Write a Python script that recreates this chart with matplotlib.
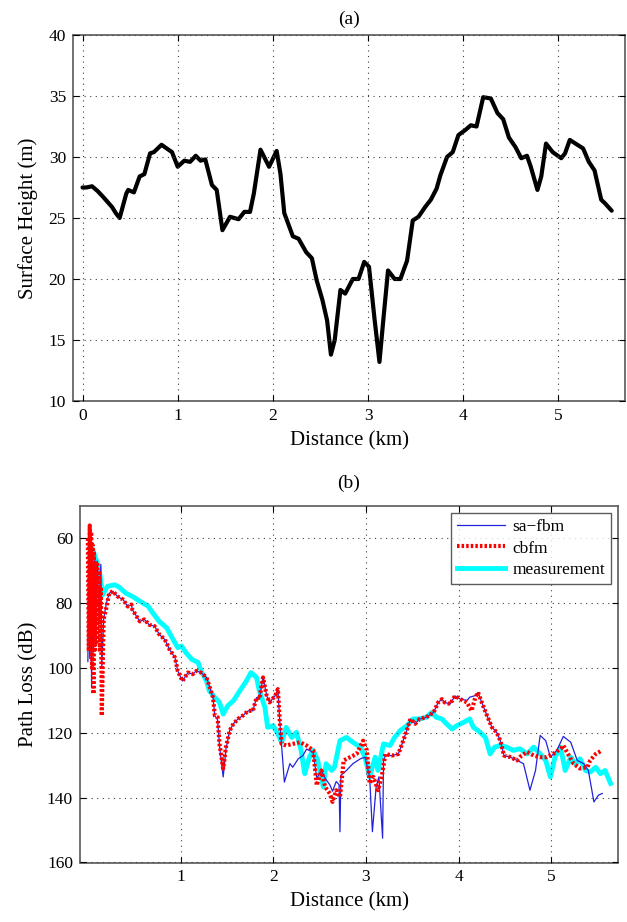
import matplotlib
matplotlib.use("Agg")
import matplotlib.pyplot as plt

plt.rcParams['font.family'] = ['Liberation Serif', 'DejaVu Serif']
plt.rcParams['mathtext.fontset'] = 'stix'

# ---------------- (a) surface height ----------------
surf_km = [0.00, 0.04, 0.10, 0.16, 0.22, 0.31, 0.35, 0.39, 0.46, 0.48, 0.54, 0.60, 0.65, 0.71, 0.75,
           0.83, 0.94, 1.00, 1.07, 1.13, 1.19, 1.24, 1.29, 1.36, 1.41, 1.47, 1.55, 1.64, 1.70, 1.76,
           1.80, 1.87, 1.96, 2.04, 2.08, 2.12, 2.21, 2.27, 2.35, 2.41, 2.46, 2.52, 2.57, 2.61, 2.65,
           2.71, 2.76, 2.84, 2.90, 2.96, 3.01, 3.07, 3.12, 3.16, 3.21, 3.28, 3.34, 3.41, 3.47, 3.53,
           3.60, 3.66, 3.72, 3.76, 3.83, 3.89, 3.95, 4.02, 4.08, 4.14, 4.21, 4.29, 4.36, 4.42, 4.48,
           4.55, 4.61, 4.67, 4.71, 4.78, 4.82, 4.87, 4.94, 5.03, 5.07, 5.12, 5.20, 5.26, 5.32, 5.38,
           5.45, 5.49, 5.56]
surf_h = [27.5, 27.5, 27.6, 27.2, 26.7, 25.9, 25.4, 25.0, 27.0, 27.3, 27.1, 28.4, 28.6, 30.3, 30.4,
          31.0, 30.4, 29.2, 29.7, 29.6, 30.1, 29.7, 29.8, 27.7, 27.3, 24.0, 25.1, 24.9, 25.5, 25.5,
          27.0, 30.6, 29.2, 30.5, 28.6, 25.4, 23.5, 23.3, 22.2, 21.7, 19.9, 18.3, 16.6, 13.8, 15.0,
          19.1, 18.8, 20.0, 20.0, 21.4, 21.0, 16.6, 13.2, 16.6, 20.7, 20.0, 20.0, 21.5, 24.8, 25.1,
          25.9, 26.5, 27.4, 28.5, 30.0, 30.4, 31.8, 32.2, 32.6, 32.5, 34.9, 34.8, 33.6, 33.1, 31.6,
          30.8, 29.9, 30.1, 29.2, 27.3, 28.4, 31.1, 30.4, 29.9, 30.3, 31.4, 31.0, 30.7, 29.6, 28.9,
          26.5, 26.2, 25.6]

# ---------------- (b) path loss ----------------
meas_km = [0.05, 0.09, 0.12, 0.16, 0.21, 0.29, 0.34, 0.41, 0.48, 0.59, 0.65, 0.70, 0.77, 0.85, 0.92,
           0.97, 1.01, 1.06, 1.12, 1.19, 1.22, 1.24, 1.28, 1.31, 1.37, 1.42, 1.46, 1.51, 1.57, 1.64,
           1.71, 1.76, 1.82, 1.85, 1.91, 1.94, 2.00, 2.05, 2.09, 2.14, 2.20, 2.25, 2.30, 2.34, 2.39,
           2.43, 2.48, 2.54, 2.57, 2.63, 2.66, 2.72, 2.79, 2.86, 2.94, 2.99, 3.04, 3.10, 3.13, 3.19,
           3.26, 3.31, 3.37, 3.44, 3.51, 3.58, 3.65, 3.71, 3.76, 3.82, 3.87, 3.93, 3.98, 4.05, 4.12,
           4.16, 4.21, 4.29, 4.34, 4.39, 4.45, 4.52, 4.59, 4.66, 4.74, 4.81, 4.88, 4.94, 4.99, 5.04,
           5.10, 5.15, 5.21, 5.26, 5.31, 5.37, 5.42, 5.48, 5.53, 5.58, 5.64]
meas_db = [63.3, 66.6, 69.2, 77.4, 74.8, 74.3, 75.1, 76.9, 77.9, 79.9, 80.9, 83.0, 85.6, 87.6, 91.2,
           93.7, 93.2, 95.3, 97.3, 98.3, 100.9, 101.9, 104.0, 107.0, 109.1, 110.6, 114.2, 111.6, 110.1, 107.0,
           104.0, 101.4, 102.9, 107.0, 112.1, 118.3, 117.8, 120.3, 122.9, 118.3, 121.4, 119.8, 125.4, 132.6, 127.5,
           125.4, 128.5, 136.7, 129.5, 131.6, 130.6, 122.4, 121.4, 122.9, 124.4, 127.5, 133.6, 127.5, 131.6, 123.4,
           123.9, 121.4, 119.3, 117.8, 115.7, 115.7, 115.2, 113.7, 115.2, 115.7, 117.2, 118.8, 117.8, 116.8, 115.7,
           118.3, 119.3, 121.4, 126.5, 124.4, 123.9, 124.4, 125.4, 124.9, 126.5, 124.4, 126.5, 128.5, 133.6, 127.5,
           124.4, 131.6, 127.5, 129.6, 128.0, 131.6, 132.1, 130.6, 132.6, 131.6, 135.6]

cbfm_km = [0.00, 0.01, 0.02, 0.03, 0.035, 0.045, 0.05, 0.06, 0.065, 0.075, 0.08, 0.09, 0.10, 0.11, 0.12,
           0.13, 0.14, 0.15, 0.17, 0.20, 0.23, 0.27, 0.32, 0.38, 0.43, 0.47, 0.48, 0.56, 0.61, 0.66,
           0.72, 0.77, 0.83, 0.88, 0.94, 0.97, 1.01, 1.02, 1.08, 1.13, 1.17, 1.22, 1.28, 1.31, 1.35,
           1.37, 1.40, 1.42, 1.46, 1.49, 1.53, 1.57, 1.62, 1.67, 1.73, 1.78, 1.82, 1.85, 1.89, 1.93,
           1.96, 2.02, 2.05, 2.07, 2.09, 2.14, 2.21, 2.29, 2.36, 2.43, 2.47, 2.52, 2.56, 2.61, 2.64,
           2.68, 2.72, 2.76, 2.83, 2.90, 2.97, 3.01, 3.04, 3.08, 3.13, 3.17, 3.21, 3.28, 3.35, 3.39,
           3.44, 3.48, 3.53, 3.58, 3.65, 3.73, 3.78, 3.82, 3.85, 3.91, 3.96, 4.02, 4.09, 4.14, 4.18,
           4.21, 4.25, 4.30, 4.36, 4.41, 4.45, 4.49, 4.56, 4.63, 4.68, 4.74, 4.81, 4.88, 4.95, 5.02,
           5.10, 5.13, 5.19, 5.24, 5.31, 5.39, 5.42, 5.48, 5.55]
cbfm_db = [60.0, 94.8, 56.0, 90.0, 58.0, 100.0, 62.0, 108.0, 64.0, 95.0, 67.0, 92.0, 68.0, 85.0, 70.0,
           95.0, 75.0, 114.7, 85.0, 81.3, 76.9, 76.3, 77.9, 78.9, 81.0, 80.4, 82.0, 85.6, 85.0, 86.6,
           87.1, 89.6, 91.2, 94.2, 96.8, 100.9, 103.4, 104.0, 101.4, 101.9, 100.9, 101.4, 102.9, 105.5, 109.1,
           114.7, 115.2, 123.4, 131.0, 124.4, 119.3, 117.2, 115.7, 114.7, 113.2, 113.2, 109.1, 109.6, 102.9, 108.6,
           110.6, 108.6, 106.5, 116.2, 123.4, 123.9, 123.4, 122.9, 123.9, 125.4, 136.2, 131.6, 136.7, 138.7, 141.3,
           137.7, 139.8, 128.5, 127.5, 126.5, 122.4, 125.4, 135.6, 133.6, 137.7, 133.6, 126.5, 127.0, 126.5, 123.4,
           119.3, 115.7, 117.2, 115.7, 115.2, 113.7, 110.6, 109.6, 110.6, 111.1, 108.6, 109.6, 110.6, 113.2, 109.1,
           107.5, 110.6, 114.2, 118.3, 119.8, 122.4, 127.0, 127.5, 128.5, 127.0, 125.9, 127.0, 127.5, 127.5, 126.5,
           124.9, 123.9, 127.0, 129.5, 131.0, 130.6, 128.5, 126.5, 125.4]

safbm_km = [0.00, 0.01, 0.02, 0.03, 0.04, 0.05, 0.06, 0.07, 0.08, 0.10, 0.12, 0.14, 0.15, 0.17, 0.20,
            0.23, 0.27, 0.32, 0.38, 0.43, 0.47, 0.48, 0.56, 0.61, 0.66, 0.72, 0.77, 0.83, 0.88, 0.94,
            0.97, 1.01, 1.02, 1.08, 1.13, 1.17, 1.22, 1.28, 1.31, 1.35, 1.37, 1.40, 1.42, 1.46, 1.49,
            1.53, 1.57, 1.62, 1.67, 1.73, 1.78, 1.82, 1.85, 1.89, 1.93, 1.96, 2.02, 2.05, 2.07, 2.12,
            2.18, 2.21, 2.27, 2.32, 2.36, 2.43, 2.47, 2.52, 2.56, 2.61, 2.64, 2.68, 2.71, 2.72, 2.73,
            2.79, 2.86, 2.94, 2.99, 3.04, 3.07, 3.11, 3.14, 3.18, 3.19, 3.21, 3.28, 3.35, 3.39, 3.44,
            3.48, 3.53, 3.58, 3.65, 3.73, 3.78, 3.82, 3.85, 3.91, 3.96, 4.02, 4.09, 4.12, 4.18, 4.21,
            4.25, 4.30, 4.36, 4.41, 4.45, 4.49, 4.56, 4.63, 4.70, 4.77, 4.83, 4.88, 4.94, 4.99, 5.06,
            5.13, 5.21, 5.28, 5.35, 5.40, 5.46, 5.51, 5.55]
safbm_db = [98.0, 60.0, 97.0, 62.0, 106.0, 66.0, 95.0, 66.0, 90.0, 67.0, 85.0, 68.0, 100.0, 85.0, 80.0,
            76.9, 76.3, 77.9, 78.9, 81.0, 80.4, 82.0, 85.6, 85.0, 86.6, 87.1, 89.6, 91.2, 94.2, 96.8,
            100.9, 103.4, 104.0, 101.4, 101.9, 100.9, 101.4, 102.9, 105.5, 109.1, 114.7, 116.0, 124.0, 133.6, 125.0,
            119.3, 117.2, 115.7, 114.7, 113.2, 113.2, 109.1, 109.6, 102.9, 108.6, 110.6, 108.6, 106.5, 116.2, 135.2,
            129.5, 130.6, 128.0, 127.0, 125.0, 126.0, 134.0, 131.6, 134.0, 136.0, 138.0, 135.0, 136.0, 150.5, 133.1,
            131.6, 129.5, 128.0, 127.5, 133.6, 150.5, 136.7, 133.6, 152.5, 128.5, 127.0, 127.0, 126.5, 123.4, 119.3,
            115.7, 117.2, 115.7, 115.2, 113.7, 110.6, 109.6, 110.6, 111.1, 108.6, 109.6, 110.0, 109.0, 108.5, 107.5,
            110.6, 114.2, 118.3, 119.8, 122.4, 127.0, 127.5, 128.5, 129.5, 137.7, 131.6, 120.8, 122.4, 127.5, 125.4,
            121.1, 122.9, 128.5, 129.5, 131.6, 141.3, 139.2, 138.7]

series_names = ['sa\u2212fbm', 'cbfm', 'measurement']

fig = plt.figure(figsize=(6.27, 9.22), dpi=100)

grid_kw = dict(color='0.25', linestyle=(0, (1, 4)), linewidth=0.8)
spine_color = '0.35'

def style(ax):
    for s in ax.spines.values():
        s.set_color(spine_color)
        s.set_linewidth(1.2)
    ax.tick_params(direction='in', top=True, right=True, length=4, width=0.8,
                   colors='black', labelsize=12.5, pad=5)
    ax.grid(True, **grid_kw)
    ax.set_axisbelow(False)

# (a)
ax1 = fig.add_axes([73/627, 1-401/922, (625-73)/627, (401-35)/922])
ax1.plot(surf_km, surf_h, color='black', linewidth=3.0, solid_joinstyle='round',
         solid_capstyle='round')
ax1.set_xlim(-0.1, 5.7)
ax1.set_ylim(10, 40)
ax1.set_xticks([0, 1, 2, 3, 4, 5])
ax1.set_yticks([10, 15, 20, 25, 30, 35, 40])
ax1.set_xlabel('Distance (km)', fontsize=15, labelpad=5)
ax1.set_ylabel('Surface Height (m)', fontsize=15, labelpad=8)
ax1.set_title('(a)', fontsize=14, pad=8)
style(ax1)

# (b)
ax2 = fig.add_axes([80/627, 1-862.5/922, (618-80)/627, (862.5-506)/922])
ax2.plot(safbm_km, safbm_db, color='#2222dd', linewidth=0.9, label=series_names[0], zorder=3)
ax2.plot(cbfm_km, cbfm_db, color='red', linewidth=3.0, linestyle=(0, (0.6, 0.5)),
         label=series_names[1], zorder=4)
ax2.plot(meas_km, meas_db, color='cyan', linewidth=3.5, label=series_names[2], zorder=2)
ax2.set_xlim(-0.085, 5.72)
ax2.set_ylim(160, 50)
ax2.set_xticks([1, 2, 3, 4, 5])
ax2.set_yticks([60, 80, 100, 120, 140, 160])
ax2.set_xlabel('Distance (km)', fontsize=15, labelpad=5)
ax2.set_ylabel('Path Loss (dB)', fontsize=15, labelpad=6)
ax2.set_title('(b)', fontsize=14, pad=13)
style(ax2)
leg = ax2.legend(loc='upper right', fontsize=12.5, frameon=True, fancybox=False,
                 edgecolor='0.2', handlelength=2.8, borderaxespad=0.4,
                 labelspacing=0.3, handletextpad=0.4, borderpad=0.35)
leg.get_frame().set_linewidth(1.0)

fig.savefig('out.png', dpi=100)
